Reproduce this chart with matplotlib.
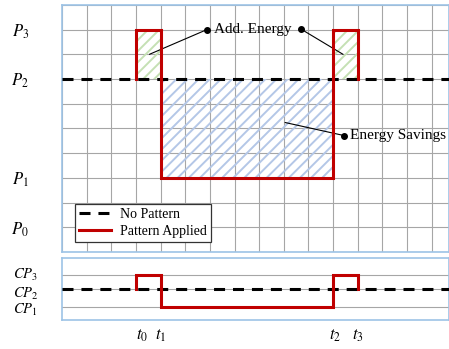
import matplotlib
matplotlib.use("Agg")
from matplotlib import pyplot as plt
from matplotlib.transforms import ScaledTranslation

plt.rcParams['mathtext.fontset'] = 'stix'
plt.rcParams['hatch.linewidth'] = 1.4

# levels of the power chart (top) and control chart (bottom)
p_ticks = [1, 3, 7, 9]
p_labels = ['$P_0$', '$P_1$', '$P_2$', '$P_3$']
cp_ticks = [1, 2.1, 3]
cp_labels = ['$CP_1$', '$CP_2$', '$CP_3$']
t_ticks = [3, 4, 11, 12]
t_labels = ['$t_0$', '$t_1$', '$t_2$', '$t_3$']

no_pattern_p = 7
no_pattern_cp = 2.1
pattern_x = [3, 3, 4, 4, 11, 11, 12, 12]
pattern_p = [7, 9, 9, 3, 3, 9, 9, 7]
pattern_cp = [2.1, 3, 3, 1, 1, 3, 3, 2.1]

red = '#c00000'
spine_c = '#9dc3e6'
grid_c = '#a6a6a6'
serif = 'Liberation Serif'

fig = plt.figure(figsize=(4.49, 3.49), dpi=100)
ax = fig.add_axes([0.138, 0.278, 0.862, 0.708])
ax2 = fig.add_axes([0.138, 0.083, 0.862, 0.178])

xmax = 15.7

# ---- top panel
ax.set_xlim(0, xmax)
ax.set_ylim(0, 10)
ax.set_xticks(range(0, 16))
ax.set_xticklabels([])
ax.set_yticks(range(0, 11), minor=True)
ax.set_yticks(p_ticks)
ax.set_yticklabels(p_labels, fontsize=12, ha='center')
ax.tick_params(axis='both', which='both', length=0)
ax.tick_params(axis='y', pad=30)
ax.grid(True, which='both', color=grid_c, linewidth=0.8, zorder=0)
ax.set_axisbelow(True)

# hatched areas
ax.fill_between(pattern_x[0:3:2], no_pattern_p, pattern_p[1], facecolor='none',
                edgecolor='#c5e0b4', hatch='///', linewidth=0, zorder=1)
ax.fill_between(pattern_x[4:7:2], no_pattern_p, pattern_p[5], facecolor='none',
                edgecolor='#c5e0b4', hatch='///', linewidth=0, zorder=1)
ax.fill_between(pattern_x[2:5:2], pattern_p[3], no_pattern_p, facecolor='none',
                edgecolor='#b4c7e7', hatch='///', linewidth=0, zorder=1)

ax.axhline(no_pattern_p, color='black', lw=2.2, dashes=(3.6, 2.6), zorder=3,
           label='No Pattern')
ax.plot(pattern_x, pattern_p, color=red, lw=2.2, zorder=4, label='Pattern Applied',
        solid_joinstyle='miter')

# annotations
ax.annotate('', xy=(3.55, 8.0), xytext=(5.88, 9.0),
            arrowprops=dict(arrowstyle='-', color='black', lw=0.8, shrinkA=0, shrinkB=0))
ax.annotate('', xy=(11.4, 8.0), xytext=(9.68, 9.03),
            arrowprops=dict(arrowstyle='-', color='black', lw=0.8, shrinkA=0, shrinkB=0))
ax.plot([5.88, 9.68], [9.0, 9.03], 'o', color='black', ms=4, zorder=5)
ax.text(6.15, 9.02, 'Add. Energy', family=serif, fontsize=11, va='center', ha='left')

ax.annotate('', xy=(9.05, 5.24), xytext=(11.45, 4.71),
            arrowprops=dict(arrowstyle='-', color='black', lw=0.8, shrinkA=0, shrinkB=0))
ax.plot([11.45], [4.71], 'o', color='black', ms=4, zorder=5)
ax.text(11.7, 4.71, 'Energy Savings', family=serif, fontsize=11, va='center', ha='left')

leg = ax.legend(loc='upper left', bbox_to_anchor=(0.034, 0.196), borderaxespad=0,
                prop={'family': serif, 'size': 10}, fancybox=False, framealpha=1,
                edgecolor='#333333', handlelength=2.3, borderpad=0.3,
                labelspacing=0.3, handletextpad=0.6)
leg.get_frame().set_linewidth(0.9)

# ---- bottom panel
ax2.set_xlim(0, xmax)
ax2.set_ylim(0.16, 4.07)
ax2.set_yticks(cp_ticks)
ax2.set_yticklabels(cp_labels, fontsize=10.5, ha='center')
ax2.set_xticks(t_ticks)
ax2.set_xticklabels(t_labels, fontsize=12)
ax2.tick_params(axis='both', length=0)
ax2.tick_params(axis='y', pad=26)
ax2.tick_params(axis='x', pad=4)
ax2.grid(True, axis='y', color=grid_c, linewidth=0.8, zorder=0)
ax2.set_axisbelow(True)
ax2.axhline(no_pattern_cp, color='black', lw=2.2, dashes=(3.6, 2.6), zorder=3)
ax2.plot(pattern_x, pattern_cp, color=red, lw=2.2, zorder=4, solid_joinstyle='miter')

# nudge labels like the original
offs = [6, 0, 2, 0]
for lab, dx in zip(ax2.get_xticklabels(), offs):
    lab.set_transform(lab.get_transform() + ScaledTranslation(dx / 100, 0, fig.dpi_scale_trans))
yoffs = [-1, -3, 2]
for lab, dy in zip(ax2.get_yticklabels(), yoffs):
    lab.set_transform(lab.get_transform() + ScaledTranslation(0, dy / 100, fig.dpi_scale_trans))

for a in (ax, ax2):
    for s in a.spines.values():
        s.set_color(spine_c)
        s.set_linewidth(1.2)

fig.savefig('out.png', dpi=100)
